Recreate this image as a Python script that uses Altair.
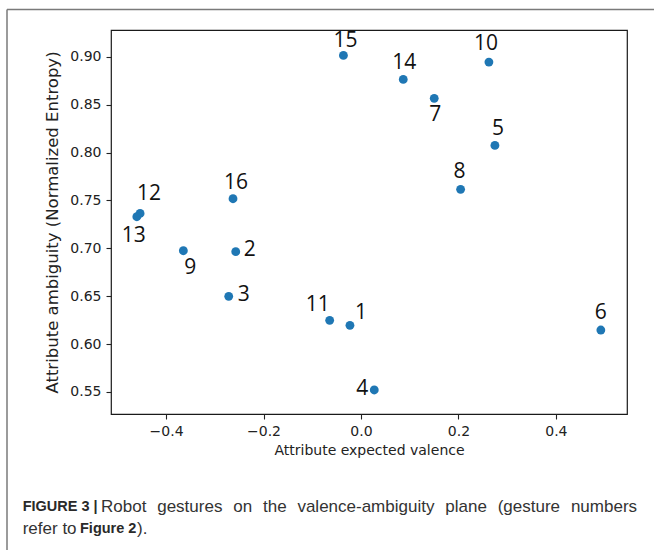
import altair as alt
import pandas as pd

# Gesture positions on the valence-ambiguity plane
gesture = list(range(1, 17))
valence = [-0.0226, -0.257, -0.2714, 0.0273, 0.2749, 0.4923, 0.1504, 0.2045,
           -0.3645, 0.2626, -0.0642, -0.4533, -0.460, 0.0868, -0.036, -0.2626]
ambiguity = [0.6196, 0.6965, 0.6499, 0.5521, 0.8075, 0.6147, 0.8566, 0.7616,
             0.6975, 0.8945, 0.6248, 0.7365, 0.733, 0.8764, 0.9015, 0.7518]

x_ticks = [-0.4, -0.2, 0.0, 0.2, 0.4]
y_ticks = [0.55, 0.60, 0.65, 0.70, 0.75, 0.80, 0.85, 0.90]

df = pd.DataFrame({"gesture": gesture, "valence": valence, "ambiguity": ambiguity})
one = pd.DataFrame({"k": [0]})

# where each number sits relative to its dot (pixels)
label_offset = {
    1: (11, -12), 2: (14, -2), 3: (15, -1), 4: (-12, -1), 5: (3, -16),
    6: (0, -17), 7: (1, 17), 8: (-1, -17), 9: (7, 17), 10: (-3, -18),
    11: (-12, -15), 12: (9, -19), 13: (-3, 19), 14: (1, -16), 15: (2, -14),
    16: (3, -16),
}

W, H = 516, 384
LEFT, TOP = 111, 30

x_enc = alt.X("valence:Q",
              scale=alt.Scale(domain=[-0.513, 0.546], nice=False, zero=False),
              axis=alt.Axis(values=x_ticks, format=".1f", title="Attribute expected valence",
                            titlePadding=5))
y_enc = alt.Y("ambiguity:Q",
              scale=alt.Scale(domain=[0.527, 0.928], nice=False, zero=False),
              axis=alt.Axis(values=y_ticks, format=".2f",
                            title="Attribute ambiguity (Normalized Entropy)",
                            titleFontSize=16.5, titlePadding=9))

base = alt.Chart(df)
points = base.mark_circle(size=78, color="#1f77b4", opacity=1).encode(x=x_enc, y=y_enc)

labels = [
    base.transform_filter(alt.datum.gesture == g)
    .mark_text(dx=dx, dy=dy, font="Open Sans", fontSize=21, color="#111111",
               align="center", baseline="middle")
    .encode(x="valence:Q", y="ambiguity:Q", text="gesture:N")
    for g, (dx, dy) in label_offset.items()
]

# page frame around the figure
frame_top = alt.Chart(one).mark_rule(color="#7a7a7a", strokeWidth=1.5).encode(
    x=alt.value(7 - LEFT), x2=alt.value(660 - LEFT), y=alt.value(9.5 - TOP))
frame_left = alt.Chart(one).mark_rule(color="#7a7a7a", strokeWidth=1.5).encode(
    x=alt.value(7 - LEFT), y=alt.value(9.5 - TOP), y2=alt.value(560 - TOP))

# caption (first line is justified, so its words are set one by one)
cap_font = "Liberation Sans"
body = dict(font=cap_font, fontSize=17, align="left", baseline="middle", color="#333333")
bold = dict(font=cap_font, fontSize=14.5, fontWeight="bold", align="left", baseline="middle",
            color="#2a2a2a")
line1_words = ["Robot", "gestures", "on", "the", "valence-ambiguity", "plane", "(gesture", "numbers"]
line1_x = [101, 157.2, 233.2, 263.0, 297.4, 445.3, 497.7, 570.9]

caption = [alt.Chart(one).mark_text(text="FIGURE 3 |", **bold).encode(
    x=alt.value(22.7 - LEFT), y=alt.value(507 - TOP))]
for word, wx in zip(line1_words, line1_x):
    caption.append(alt.Chart(one).mark_text(text=word, **body).encode(
        x=alt.value(wx - LEFT), y=alt.value(507 - TOP)))
caption += [
    alt.Chart(one).mark_text(text="refer to", **body).encode(
        x=alt.value(22.7 - LEFT), y=alt.value(529 - TOP)),
    alt.Chart(one).mark_text(text="Figure 2", **bold).encode(
        x=alt.value(80 - LEFT), y=alt.value(529 - TOP)),
    alt.Chart(one).mark_text(text=").", **body).encode(
        x=alt.value(137 - LEFT), y=alt.value(529 - TOP)),
]

chart = alt.layer(frame_top, frame_left, points, *labels, *caption).properties(
    width=W, height=H,
    background="white",
    autosize=alt.AutoSizeParams(type="none"),
    padding={"left": LEFT, "top": TOP, "right": 654 - LEFT - W, "bottom": 550 - TOP - H},
).configure_view(
    stroke="#1a1a1a", strokeWidth=1.2
).configure_axis(
    grid=False, domain=False,
    labelFont="DejaVu Sans", labelFontSize=14, labelColor="#222222", labelPadding=5,
    tickColor="#222222", tickSize=5, tickWidth=1.1,
    titleFont="DejaVu Sans", titleFontSize=14, titleFontWeight="normal", titleColor="#222222",
)

chart.save("out.html", embed_options={"renderer": "svg", "actions": False})
